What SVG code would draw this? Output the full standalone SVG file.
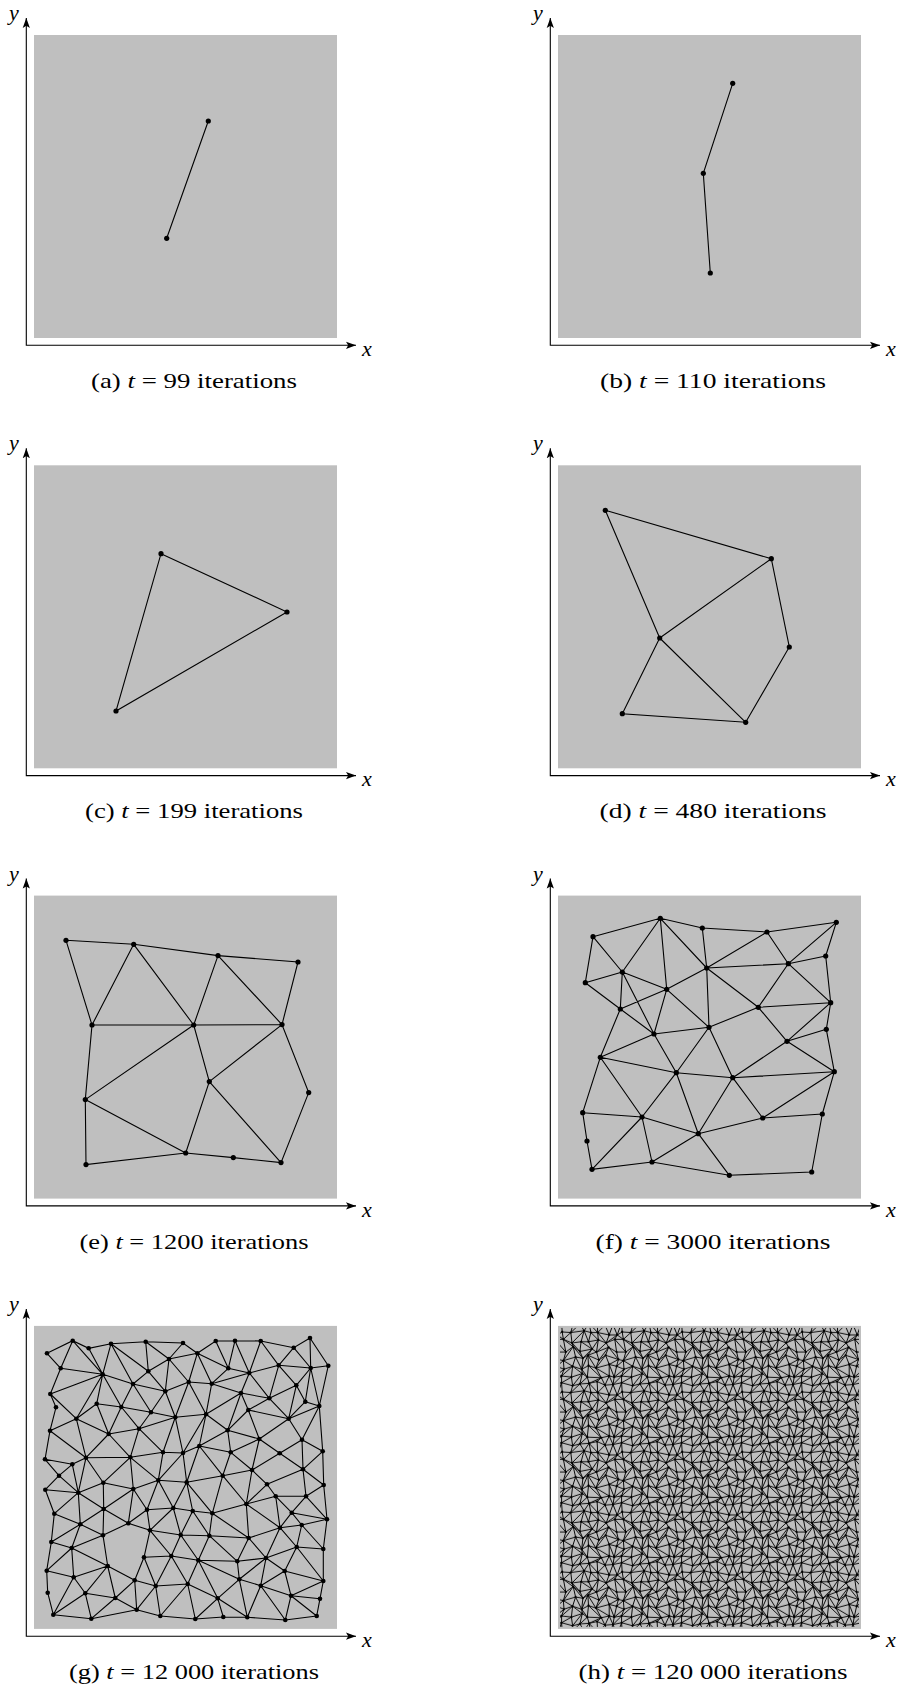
<svg xmlns="http://www.w3.org/2000/svg" width="900" height="1693" viewBox="0 0 900 1693">
<defs>
<style>
.bg{fill:#bfbfbf}
.ax{fill:none;stroke:#000;stroke-width:1.1;marker-start:url(#arr);marker-end:url(#arr)}
.ed{fill:none;stroke:#000;stroke-width:1.1;stroke-linecap:round}
.nd{fill:#000}
.lb{font-family:"Liberation Serif",serif;font-style:italic;font-size:22px;fill:#000}
.cp{font-family:"Liberation Serif",serif;font-size:22px;text-anchor:middle;fill:#000}
.it{font-style:italic}
</style>
<marker id="arr" markerUnits="userSpaceOnUse" markerWidth="11" markerHeight="8" refX="10" refY="4" orient="auto-start-reverse"><path d="M0,0.4 L10,4 L0,7.6 L2.2,4 Z" fill="#000"/></marker>
<pattern id="mesh" patternUnits="userSpaceOnUse" x="36" y="37" width="60" height="60">
<path fill="none" stroke="#000" stroke-width="0.95" d="M2.2 4L10.8 4.6L24.1 2.8L30.9 4.6L37.7 4.6L49.2 7L57.2 7L62.2 4M-2.8 7L2.2 4
M3.4 11.4L12 15L21.1 13.8L28.5 13.8L38.3 12L46.2 15L54.8 11.4L63.4 11.4M-5.2 11.4L3.4 11.4
M5.8 24.1L13.2 18.7L19.9 23.5L32.1 21.1L36.5 24.1L48.6 19.3L56.6 24.1L65.8 24.1M-3.4 24.1L5.8 24.1
M3.4 32.7L15.6 29.1L22.9 30.3L27.9 27.3L38.9 32.1L45.6 27.3L58.4 31.5L63.4 32.7M-1.6 31.5L3.4 32.7
M4 41.3L12.6 38.3L21.7 41.3L28.5 37.7L35.9 40.1L49.2 36.5L56.6 38.3L64 41.3M-3.4 38.3L4 41.3
M1.6 48L11.4 49.2L22.3 45.6L27.3 49.2L41.3 49.8L49.2 48L54.2 49.2L61.6 48M-5.8 49.2L1.6 48
M1.6 54.8L12.6 57.8L19.9 56L29.1 55.4L37.1 53.6L45 57.2L53 56.6L61.6 54.8M-7 56.6L1.6 54.8
M2.2 4L3.4 11.4L5.8 24.1L3.4 32.7L4 41.3L1.6 48L1.6 54.8L2.2 64M1.6 -5.2L2.2 4
M10.8 4.6L12 15L13.2 18.7L15.6 29.1L12.6 38.3L11.4 49.2L12.6 57.8L10.8 64.6M12.6 -2.2L10.8 4.6
M24.1 2.8L21.1 13.8L19.9 23.5L22.9 30.3L21.7 41.3L22.3 45.6L19.9 56L24.1 62.8M19.9 -4L24.1 2.8
M30.9 4.6L28.5 13.8L32.1 21.1L27.9 27.3L28.5 37.7L27.3 49.2L29.1 55.4L30.9 64.6M29.1 -4.6L30.9 4.6
M37.7 4.6L38.3 12L36.5 24.1L38.9 32.1L35.9 40.1L41.3 49.8L37.1 53.6L37.7 64.6M37.1 -6.4L37.7 4.6
M49.2 7L46.2 15L48.6 19.3L45.6 27.3L49.2 36.5L49.2 48L45 57.2L49.2 67M45 -2.8L49.2 7
M57.2 7L54.8 11.4L56.6 24.1L58.4 31.5L56.6 38.3L54.2 49.2L53 56.6L57.2 67M53 -3.4L57.2 7
M10.8 4.6L3.4 11.4M24.1 2.8L12 15M24.1 2.8L28.5 13.8M30.9 4.6L38.3 12M37.7 4.6L46.2 15M57.2 7L46.2 15M57.2 7L63.4 11.4M-2.8 7L3.4 11.4
M3.4 11.4L13.2 18.7M12 15L19.9 23.5M21.1 13.8L32.1 21.1M38.3 12L32.1 21.1M46.2 15L36.5 24.1M54.8 11.4L65.8 24.1M-5.2 11.4L5.8 24.1
M13.2 18.7L3.4 32.7M13.2 18.7L22.9 30.3M32.1 21.1L22.9 30.3M36.5 24.1L27.9 27.3M48.6 19.3L38.9 32.1M48.6 19.3L58.4 31.5
M3.4 32.7L12.6 38.3M15.6 29.1L21.7 41.3M27.9 27.3L21.7 41.3M27.9 27.3L35.9 40.1M45.6 27.3L35.9 40.1M58.4 31.5L49.2 36.5M63.4 32.7L56.6 38.3M3.4 32.7L-3.4 38.3
M12.6 38.3L1.6 48M12.6 38.3L22.3 45.6M21.7 41.3L27.3 49.2M28.5 37.7L41.3 49.8M35.9 40.1L49.2 48M49.2 36.5L54.2 49.2M64 41.3L54.2 49.2M4 41.3L-5.8 49.2
M11.4 49.2L1.6 54.8M22.3 45.6L12.6 57.8M27.3 49.2L19.9 56M41.3 49.8L29.1 55.4M41.3 49.8L45 57.2M49.2 48L53 56.6M61.6 48L53 56.6M1.6 48L-7 56.6
M19.9 56L10.8 64.6M19.9 -4L10.8 4.6M29.1 55.4L24.1 62.8M29.1 -4.6L24.1 2.8M29.1 55.4L37.7 64.6M29.1 -4.6L37.7 4.6M45 57.2L37.7 64.6M45 -2.8L37.7 4.6M53 56.6L49.2 67M53 -3.4L49.2 7M61.6 54.8L57.2 67M1.6 54.8L-2.8 67M61.6 -5.2L57.2 7M1.6 -5.2L-2.8 7"/>
<g fill="#000">
<circle cx="2.2" cy="4" r="1.15"/><circle cx="10.8" cy="4.6" r="1.15"/><circle cx="24.1" cy="2.8" r="1.15"/><circle cx="30.9" cy="4.6" r="1.15"/><circle cx="37.7" cy="4.6" r="1.15"/><circle cx="49.2" cy="7" r="1.15"/><circle cx="57.2" cy="7" r="1.15"/>
<circle cx="3.4" cy="11.4" r="1.15"/><circle cx="12" cy="15" r="1.15"/><circle cx="21.1" cy="13.8" r="1.15"/><circle cx="28.5" cy="13.8" r="1.15"/><circle cx="38.3" cy="12" r="1.15"/><circle cx="46.2" cy="15" r="1.15"/><circle cx="54.8" cy="11.4" r="1.15"/>
<circle cx="5.8" cy="24.1" r="1.15"/><circle cx="13.2" cy="18.7" r="1.15"/><circle cx="19.9" cy="23.5" r="1.15"/><circle cx="32.1" cy="21.1" r="1.15"/><circle cx="36.5" cy="24.1" r="1.15"/><circle cx="48.6" cy="19.3" r="1.15"/><circle cx="56.6" cy="24.1" r="1.15"/>
<circle cx="3.4" cy="32.7" r="1.15"/><circle cx="15.6" cy="29.1" r="1.15"/><circle cx="22.9" cy="30.3" r="1.15"/><circle cx="27.9" cy="27.3" r="1.15"/><circle cx="38.9" cy="32.1" r="1.15"/><circle cx="45.6" cy="27.3" r="1.15"/><circle cx="58.4" cy="31.5" r="1.15"/>
<circle cx="4" cy="41.3" r="1.15"/><circle cx="12.6" cy="38.3" r="1.15"/><circle cx="21.7" cy="41.3" r="1.15"/><circle cx="28.5" cy="37.7" r="1.15"/><circle cx="35.9" cy="40.1" r="1.15"/><circle cx="49.2" cy="36.5" r="1.15"/><circle cx="56.6" cy="38.3" r="1.15"/>
<circle cx="1.6" cy="48" r="1.15"/><circle cx="11.4" cy="49.2" r="1.15"/><circle cx="22.3" cy="45.6" r="1.15"/><circle cx="27.3" cy="49.2" r="1.15"/><circle cx="41.3" cy="49.8" r="1.15"/><circle cx="49.2" cy="48" r="1.15"/><circle cx="54.2" cy="49.2" r="1.15"/>
<circle cx="1.6" cy="54.8" r="1.15"/><circle cx="12.6" cy="57.8" r="1.15"/><circle cx="19.9" cy="56" r="1.15"/><circle cx="29.1" cy="55.4" r="1.15"/><circle cx="37.1" cy="53.6" r="1.15"/><circle cx="45" cy="57.2" r="1.15"/><circle cx="53" cy="56.6" r="1.15"/>
</g>
</pattern>
</defs>
<rect width="900" height="1693" fill="#fff"/>

<!-- (a) -->
<g id="panel-a">
<rect class="bg" x="34" y="35" width="303" height="303"/>
<path class="ax" d="M26.3 18V345.3H356"/>
<text class="lb" x="9" y="20">y</text><text class="lb" x="362" y="356">x</text>
<g id="a-edges" class="ed"><path d="M208.3 121L166.7 238.3"/></g>
<g id="a-nodes" class="nd"><circle id="a-n1" cx="208.3" cy="121" r="2.6"/><circle id="a-n2" cx="166.7" cy="238.3" r="2.6"/></g>
<text class="cp" x="194" y="388" textLength="206" lengthAdjust="spacingAndGlyphs">(a) <tspan class="it">t</tspan> = 99 iterations</text>
</g>

<!-- (b) -->
<g id="panel-b" transform="translate(524,0)">
<rect class="bg" x="34" y="35" width="303" height="303"/>
<path class="ax" d="M26.3 18V345.3H356"/>
<text class="lb" x="9" y="20">y</text><text class="lb" x="362" y="356">x</text>
<g id="b-edges" class="ed"><path d="M208.7 83.3L179.3 173.3L186.3 273"/></g>
<g id="b-nodes" class="nd"><circle id="b-n1" cx="208.7" cy="83.3" r="2.6"/><circle id="b-n2" cx="179.3" cy="173.3" r="2.6"/><circle id="b-n3" cx="186.3" cy="273" r="2.6"/></g>
<text class="cp" x="189" y="388" textLength="226" lengthAdjust="spacingAndGlyphs">(b) <tspan class="it">t</tspan> = 110 iterations</text>
</g>

<!-- (c) -->
<g id="panel-c" transform="translate(0,430.3)">
<rect class="bg" x="34" y="35" width="303" height="303"/>
<path class="ax" d="M26.3 18V345.3H356"/>
<text class="lb" x="9" y="20">y</text><text class="lb" x="362" y="356">x</text>
<g id="c-edges" class="ed"><path d="M161 123.4L287 181.7L116 280.7Z"/></g>
<g id="c-nodes" class="nd"><circle id="c-n1" cx="161" cy="123.4" r="2.6"/><circle id="c-n2" cx="287" cy="181.7" r="2.6"/><circle id="c-n3" cx="116" cy="280.7" r="2.6"/></g>
<text class="cp" x="194" y="388" textLength="218" lengthAdjust="spacingAndGlyphs">(c) <tspan class="it">t</tspan> = 199 iterations</text>
</g>

<!-- (d) -->
<g id="panel-d" transform="translate(524,430.3)">
<rect class="bg" x="34" y="35" width="303" height="303"/>
<path class="ax" d="M26.3 18V345.3H356"/>
<text class="lb" x="9" y="20">y</text><text class="lb" x="362" y="356">x</text>
<g id="d-edges" class="ed"><path d="M81.3 80L247.3 128.4L265.3 216.7L221.7 292L98.3 283.4L135.7 207.7L81.3 80M135.7 207.7L247.3 128.4M135.7 207.7L221.7 292"/></g>
<g id="d-nodes" class="nd"><circle id="d-n1" cx="81.3" cy="80" r="2.6"/><circle id="d-n2" cx="247.3" cy="128.4" r="2.6"/><circle id="d-n3" cx="135.7" cy="207.7" r="2.6"/><circle id="d-n4" cx="265.3" cy="216.7" r="2.6"/><circle id="d-n5" cx="98.3" cy="283.4" r="2.6"/><circle id="d-n6" cx="221.7" cy="292" r="2.6"/></g>
<text class="cp" x="189" y="388" textLength="227" lengthAdjust="spacingAndGlyphs">(d) <tspan class="it">t</tspan> = 480 iterations</text>
</g>

<!-- (e) -->
<g id="panel-e" transform="translate(0,860.6)">
<rect class="bg" x="34" y="35" width="303" height="303"/>
<path class="ax" d="M26.3 18V345.3H356"/>
<text class="lb" x="9" y="20">y</text><text class="lb" x="362" y="356">x</text>
<g id="e-edges" class="ed"><path d="M66 79.7L133.7 83.7L218 95L298 101.4L282 164L308.7 232L281 302L233.3 297L185.7 292.4L86 304L85.3 239L92 164.4L66 79.7M133.7 83.7L92 164.4M133.7 83.7L193.7 164.4M218 95L193.7 164.4M218 95L282 164M92 164.4L193.7 164.4L282 164M193.7 164.4L85.3 239M193.7 164.4L209.3 221M282 164L209.3 221M209.3 221L185.7 292.4M209.3 221L281 302M85.3 239L185.7 292.4"/></g>
<g id="e-nodes" class="nd">
<circle id="e-n1" cx="66" cy="79.7" r="2.6"/><circle id="e-n2" cx="133.7" cy="83.7" r="2.6"/><circle id="e-n3" cx="218" cy="95" r="2.6"/><circle id="e-n4" cx="298" cy="101.4" r="2.6"/><circle id="e-n5" cx="92" cy="164.4" r="2.6"/><circle id="e-n6" cx="193.7" cy="164.4" r="2.6"/><circle id="e-n7" cx="282" cy="164" r="2.6"/><circle id="e-n8" cx="209.3" cy="221" r="2.6"/><circle id="e-n9" cx="308.7" cy="232" r="2.6"/><circle id="e-n10" cx="85.3" cy="239" r="2.6"/><circle id="e-n11" cx="185.7" cy="292.4" r="2.6"/><circle id="e-n12" cx="233.3" cy="297" r="2.6"/><circle id="e-n13" cx="281" cy="302" r="2.6"/><circle id="e-n14" cx="86" cy="304" r="2.6"/>
</g>
<text class="cp" x="194" y="388" textLength="229" lengthAdjust="spacingAndGlyphs">(e) <tspan class="it">t</tspan> = 1200 iterations</text>
</g>

<!-- (f) -->
<g id="panel-f" transform="translate(524,860.6)">
<rect class="bg" x="34" y="35" width="303" height="303"/>
<path class="ax" d="M26.3 18V345.3H356"/>
<text class="lb" x="9" y="20">y</text><text class="lb" x="362" y="356">x</text>
<g id="f-edges" class="ed"><path d="M69 76.1L136.3 57.7L178.3 67.4L243 71.4L312.3 61.7M69 76.1L61.3 122.1M69 76.1L98.3 111.4M136.3 57.7L98.3 111.4M136.3 57.7L142.7 128.7M136.3 57.7L182.7 107.4M178.3 67.4L182.7 107.4M243 71.4L182.7 107.4M243 71.4L264.3 103.1M312.3 61.7L264.3 103.1M312.3 61.7L301.7 95.4M182.7 107.4L264.3 103.1M264.3 103.1L301.7 95.4M264.3 103.1L234.3 146.7M264.3 103.1L306.7 142.1M301.7 95.4L306.7 142.1M98.3 111.4L61.3 122.1M98.3 111.4L142.7 128.7M98.3 111.4L96.3 148.4M98.3 111.4L130 173.4M61.3 122.1L96.3 148.4M142.7 128.7L182.7 107.4M142.7 128.7L96.3 148.4M142.7 128.7L130 173.4M142.7 128.7L185 166.7M182.7 107.4L185 166.7M182.7 107.4L234.3 146.7M96.3 148.4L130 173.4M96.3 148.4L76.3 196.7M234.3 146.7L306.7 142.1M234.3 146.7L185 166.7M234.3 146.7L263 180.7M306.7 142.1L263 180.7M306.7 142.1L302.3 168.7M185 166.7L130 173.4M185 166.7L152.3 212.1M185 166.7L208.7 217.1M130 173.4L76.3 196.7M130 173.4L152.3 212.1M302.3 168.7L263 180.7M302.3 168.7L310.3 211.1M263 180.7L208.7 217.1M263 180.7L310.3 211.1M76.3 196.7L152.3 212.1M76.3 196.7L58.7 252.1M76.3 196.7L118 256.4M152.3 212.1L208.7 217.1M152.3 212.1L118 256.4M152.3 212.1L174.3 273.1M208.7 217.1L310.3 211.1M208.7 217.1L174.3 273.1M208.7 217.1L238.7 257.4M310.3 211.1L238.7 257.4M310.3 211.1L298.3 253.4M58.7 252.1L118 256.4M58.7 252.1L63 280.4M118 256.4L68 308.7M118 256.4L128 301.4M118 256.4L174.3 273.1M238.7 257.4L298.3 253.4M238.7 257.4L174.3 273.1M298.3 253.4L287.7 311.4M174.3 273.1L128 301.4M174.3 273.1L205.3 314.7M63 280.4L68 308.7L128 301.4L205.3 314.7L287.7 311.4"/></g>
<g id="f-nodes" class="nd">
<circle id="f-n1" cx="69" cy="76.1" r="2.6"/><circle id="f-n2" cx="136.3" cy="57.7" r="2.6"/><circle id="f-n3" cx="178.3" cy="67.4" r="2.6"/><circle id="f-n4" cx="243" cy="71.4" r="2.6"/><circle id="f-n5" cx="312.3" cy="61.7" r="2.6"/><circle id="f-n6" cx="98.3" cy="111.4" r="2.6"/><circle id="f-n7" cx="61.3" cy="122.1" r="2.6"/><circle id="f-n8" cx="182.7" cy="107.4" r="2.6"/><circle id="f-n9" cx="264.3" cy="103.1" r="2.6"/><circle id="f-n10" cx="301.7" cy="95.4" r="2.6"/><circle id="f-n11" cx="142.7" cy="128.7" r="2.6"/><circle id="f-n12" cx="96.3" cy="148.4" r="2.6"/><circle id="f-n13" cx="234.3" cy="146.7" r="2.6"/><circle id="f-n14" cx="306.7" cy="142.1" r="2.6"/><circle id="f-n15" cx="185" cy="166.7" r="2.6"/><circle id="f-n16" cx="130" cy="173.4" r="2.6"/><circle id="f-n17" cx="302.3" cy="168.7" r="2.6"/><circle id="f-n18" cx="263" cy="180.7" r="2.6"/><circle id="f-n19" cx="76.3" cy="196.7" r="2.6"/><circle id="f-n20" cx="152.3" cy="212.1" r="2.6"/><circle id="f-n21" cx="208.7" cy="217.1" r="2.6"/><circle id="f-n22" cx="310.3" cy="211.1" r="2.6"/><circle id="f-n23" cx="58.7" cy="252.1" r="2.6"/><circle id="f-n24" cx="118" cy="256.4" r="2.6"/><circle id="f-n25" cx="238.7" cy="257.4" r="2.6"/><circle id="f-n26" cx="298.3" cy="253.4" r="2.6"/><circle id="f-n27" cx="174.3" cy="273.1" r="2.6"/><circle id="f-n28" cx="63" cy="280.4" r="2.6"/><circle id="f-n29" cx="68" cy="308.7" r="2.6"/><circle id="f-n30" cx="128" cy="301.4" r="2.6"/><circle id="f-n31" cx="205.3" cy="314.7" r="2.6"/><circle id="f-n32" cx="287.7" cy="311.4" r="2.6"/>
</g>
<text class="cp" x="189" y="388" textLength="235" lengthAdjust="spacingAndGlyphs">(f) <tspan class="it">t</tspan> = 3000 iterations</text>
</g>

<!-- (g) -->
<g id="panel-g" transform="translate(0,1290.9)">
<rect class="bg" x="34" y="35" width="303" height="303"/>
<path class="ax" d="M26.3 18V345.3H356"/>
<text class="lb" x="9" y="20">y</text><text class="lb" x="362" y="356">x</text>
<g id="g-edges" class="ed"><path d="M47 62.4L72.7 49.8L88.7 57.4L111 52.8L145.7 50.8L183 52.1L197.3 62.4L215.7 50.1L235 49.8L260.7 50.1L293.7 56.8L310 47.1
M47 62.4L60.7 77.4M72.7 49.8L60.7 77.4M72.7 49.8L102.7 83.4M88.7 57.4L102.7 83.4M111 52.8L102.7 83.4M111 52.8L133 93.1M111 52.8L148.3 80.4M145.7 50.8L148.3 80.4M145.7 50.8L169 68.1M183 52.1L169 68.1M148.3 80.4L169 68.1M169 68.1L188.7 91.1M148.3 80.4L133 93.1M148.3 80.4L165.3 100.4M169 68.1L165.3 100.4M60.7 77.4L102.7 83.4M102.7 83.4L50.3 103.1M102.7 83.4L96.7 112.8M102.7 83.4L133 93.1M102.7 83.4L76.3 127.8M102.7 83.4L121.3 116.1M133 93.1L165.3 100.4M133 93.1L121.3 116.1M133 93.1L151 121.4M165.3 100.4L188.7 91.1M165.3 100.4L151 121.4M165.3 100.4L175.3 126.4M60.7 77.4L50.3 103.1M50.3 103.1L56 116.4L50 139.8M96.7 112.8L121.3 116.1M96.7 112.8L108.7 143.1M96.7 112.8L76.3 127.8M121.3 116.1L151 121.4M121.3 116.1L139 137.8M121.3 116.1L108.7 143.1M151 121.4L175.3 126.4M151 121.4L139 137.8M175.3 126.4L139 137.8M175.3 126.4L163 161.4M175.3 126.4L183 162.1M50.3 103.1L76.3 127.8M76.3 127.8L50 139.8M76.3 127.8L86 166.8M76.3 127.8L108.7 143.1M50 139.8L45 168.4M50 139.8L86 166.8M139 137.8L108.7 143.1M139 137.8L130.3 166.4M139 137.8L163 161.4M108.7 143.1L86 166.8M108.7 143.1L130.3 166.4M86 166.8L72.3 173.4M45 168.4L72.3 173.4M45 168.4L59 184.8M72.3 173.4L59 184.8M130.3 166.4L163 161.4M163 161.4L183 162.1M86 166.8L78.3 201.8M72.3 173.4L78.3 201.8M86 166.8L103.3 191.8M59 184.8L78.3 201.8M59 184.8L45.3 198.8M45.3 198.8L78.3 201.8M78.3 201.8L103.3 191.8M103.3 191.8L130.3 166.4M103.3 191.8L133.3 198.1M130.3 166.4L133.3 198.1M130.3 166.4L158.3 189.4M133.3 198.1L158.3 189.4M163 161.4L158.3 189.4M183 162.1L186.7 191.4M158.3 189.4L186.7 191.4M183 162.1L158.3 189.4M86 166.8L130.3 166.4
M197.3 62.4L228.3 77.4M197.3 62.4L211.7 92.8M197.3 62.4L188.7 91.1M197.3 62.4L169 68.1M215.7 50.1L228.3 77.4M235 49.8L228.3 77.4M235 49.8L249.3 82.1M260.7 50.1L249.3 82.1M260.7 50.1L278.7 74.4M293.7 56.8L278.7 74.4M293.7 56.8L310.7 77.1M310 47.1L310.7 77.1M310 47.1L328.3 74.8M310.7 77.1L328.3 74.8M278.7 74.4L310.7 77.1M228.3 77.4L249.3 82.1M228.3 77.4L211.7 92.8M249.3 82.1L278.7 74.4M278.7 74.4L269.3 107.4M249.3 82.1L211.7 92.8M249.3 82.1L241 102.1M249.3 82.1L269.3 107.4M278.7 74.4L296.3 94.4M296.3 94.4L310.7 77.1M296.3 94.4L269.3 107.4M296.3 94.4L305.3 110.8M296.3 94.4L288.7 127.8M305.3 110.8L319.3 115.1M305.3 110.8L310.7 77.1M319.3 115.1L310.7 77.1M319.3 115.1L328.3 74.8M305.3 110.8L288.7 127.8M319.3 115.1L288.7 127.8M319.3 115.1L302 148.8M288.7 127.8L302 148.8M288.7 127.8L259.3 148.1M288.7 127.8L248.3 119.1M211.7 92.8L241 102.1M211.7 92.8L206 123.4M211.7 92.8L188.7 91.1M188.7 91.1L206 123.4M188.7 91.1L175.3 126.4M175.3 126.4L206 123.4M206 123.4L183 162.1M206 123.4L199.3 155.1M199.3 155.1L183 162.1M241 102.1L269.3 107.4M241 102.1L248.3 119.1M241 102.1L206 123.4M241 102.1L227.7 139.4M269.3 107.4L248.3 119.1M269.3 107.4L288.7 127.8M206 123.4L227.7 139.4M227.7 139.4L199.3 155.1M227.7 139.4L230.7 161.4M227.7 139.4L259.3 148.1M227.7 139.4L248.3 119.1M248.3 119.1L259.3 148.1M259.3 148.1L230.7 161.4M259.3 148.1L279.7 162.4M259.3 148.1L252 179.1M302 148.8L279.7 162.4M302 148.8L322.7 160.4M302 148.8L303 178.4M319.3 115.1L322.7 160.4M199.3 155.1L230.7 161.4M199.3 155.1L222.7 184.8M230.7 161.4L252 179.1M230.7 161.4L222.7 184.8M279.7 162.4L252 179.1M279.7 162.4L303 178.4M322.7 160.4L303 178.4M252 179.1L222.7 184.8M199.3 155.1L186.7 191.4M222.7 184.8L186.7 191.4M322.7 160.4L323.7 194.1
M45.3 198.8L54.3 222.8M78.3 201.8L54.3 222.8M78.3 201.8L80.3 233.4M103.3 191.8L103.7 218.1M78.3 201.8L103.7 218.1M133.3 198.1L128.3 232.4M133.3 198.1L147 218.8M133.3 198.1L103.7 218.1M158.3 189.4L147 218.8M158.3 189.4L173.3 217.1M54.3 222.8L80.3 233.4M54.3 222.8L51.3 251.1M103.7 218.1L80.3 233.4M103.7 218.1L103 244.4M103.7 218.1L128.3 232.4M80.3 233.4L103 244.4M80.3 233.4L51.3 251.1M80.3 233.4L71.7 257.1M128.3 232.4L103 244.4M128.3 232.4L150 239.4M147 218.8L128.3 232.4M147 218.8L150 239.4M147 218.8L173.3 217.1M173.3 217.1L150 239.4M173.3 217.1L180.7 244.1M150 239.4L180.7 244.1M150 239.4L144 266.4M150 239.4L171.3 265.1M180.7 244.1L171.3 265.1M103 244.4L71.7 257.1M51.3 251.1L71.7 257.1M51.3 251.1L46.7 279.8M71.7 257.1L46.7 279.8M71.7 257.1L107.7 275.1M71.7 257.1L73.7 286.4M144 266.4L171.3 265.1M144 266.4L134.7 289.4M144 266.4L155.7 295.1M107.7 275.1L134.7 289.4M171.3 265.1L155.7 295.1M171.3 265.1L187.7 293.1M46.7 279.8L73.7 286.4M46.7 279.8L47.7 301.8M47.7 301.8L53.3 323.8M107.7 275.1L73.7 286.4M107.7 275.1L115.3 307.1M107.7 275.1L85.3 302.4M73.7 286.4L85.3 302.4M73.7 286.4L53.3 323.8M134.7 289.4L155.7 295.1M134.7 289.4L115.3 307.1M134.7 289.4L136.7 318.8M155.7 295.1L136.7 318.8M155.7 295.1L160.3 325.1M155.7 295.1L187.7 293.1M85.3 302.4L115.3 307.1M85.3 302.4L53.3 323.8M85.3 302.4L91.3 327.8M115.3 307.1L91.3 327.8M115.3 307.1L136.7 318.8M53.3 323.8L91.3 327.8M91.3 327.8L136.7 318.8M136.7 318.8L160.3 325.1M160.3 325.1L195.3 328.1M187.7 293.1L160.3 325.1M103 244.4L107.7 275.1
M252 179.1L267 193.4M252 179.1L246.3 213.1M303 178.4L267 193.4M303 178.4L323.7 194.1M303 178.4L306 205.4M323.7 194.1L306 205.4M323.7 194.1L327 228.4M267 193.4L275.7 205.4M267 193.4L246.3 213.1M275.7 205.4L306 205.4M275.7 205.4L291.7 221.8M275.7 205.4L280 236.8M275.7 205.4L246.3 213.1M306 205.4L291.7 221.8M306 205.4L327 228.4M291.7 221.8L327 228.4M291.7 221.8L301.7 234.1M301.7 234.1L327 228.4M291.7 221.8L280 236.8M246.3 213.1L212.3 222.4M246.3 213.1L280 236.8M246.3 213.1L248.7 247.1M212.3 222.4L192.7 220.1M212.3 222.4L209.3 244.8M212.3 222.4L248.7 247.1M192.7 220.1L186.7 191.4M186.7 191.4L212.3 222.4M222.7 184.8L246.3 213.1M222.7 184.8L212.3 222.4M301.7 234.1L280 236.8M301.7 234.1L296.7 256.1M327 228.4L323.3 258.1M301.7 234.1L323.3 258.1M280 236.8L296.7 256.1M280 236.8L248.7 247.1M280 236.8L266 267.1M180.7 244.1L209.3 244.8M180.7 244.1L198.3 269.4M192.7 220.1L180.7 244.1M192.7 220.1L209.3 244.8M209.3 244.8L248.7 247.1M209.3 244.8L198.3 269.4M209.3 244.8L237.3 270.4M248.7 247.1L237.3 270.4M248.7 247.1L266 267.1M296.7 256.1L323.3 258.1M296.7 256.1L266 267.1M296.7 256.1L284.7 280.1M323.3 258.1L323.3 290.1M296.7 256.1L323.3 290.1M198.3 269.4L237.3 270.4M198.3 269.4L187.7 293.1M198.3 269.4L239.3 288.4M237.3 270.4L239.3 288.4M237.3 270.4L266 267.1M266 267.1L284.7 280.1M266 267.1L239.3 288.4M266 267.1L260.7 294.8M284.7 280.1L260.7 294.8M284.7 280.1L323.3 290.1M284.7 280.1L291 304.8M187.7 293.1L217.7 307.4M187.7 293.1L195.3 328.1M239.3 288.4L260.7 294.8M239.3 288.4L217.7 307.4M239.3 288.4L247.3 326.4M260.7 294.8L291 304.8M260.7 294.8L247.3 326.4M260.7 294.8L285.3 329.1M323.3 290.1L291 304.8M323.3 290.1L320 307.8M291 304.8L285.3 329.1M291 304.8L320 307.8M291 304.8L316.7 325.1M217.7 307.4L195.3 328.1M217.7 307.4L223.3 326.1M217.7 307.4L247.3 326.4M195.3 328.1L223.3 326.1M223.3 326.1L247.3 326.4M247.3 326.4L285.3 329.1M285.3 329.1L316.7 325.1M320 307.8L316.7 325.1M198.3 269.4L171.3 265.1M173.3 217.1L192.7 220.1M173.3 217.1L186.7 191.4M198.3 269.4L217.7 307.4"/></g>
<g id="g-nodes" class="nd">
<circle id="g-n1" cx="47" cy="62.4" r="2.3"/><circle id="g-n2" cx="72.7" cy="49.8" r="2.3"/><circle id="g-n3" cx="88.7" cy="57.4" r="2.3"/><circle id="g-n4" cx="111" cy="52.8" r="2.3"/><circle id="g-n5" cx="145.7" cy="50.8" r="2.3"/><circle id="g-n6" cx="183" cy="52.1" r="2.3"/><circle id="g-n7" cx="197.3" cy="62.4" r="2.3"/><circle id="g-n8" cx="215.7" cy="50.1" r="2.3"/><circle id="g-n9" cx="235" cy="49.8" r="2.3"/><circle id="g-n10" cx="260.7" cy="50.1" r="2.3"/><circle id="g-n11" cx="293.7" cy="56.8" r="2.3"/><circle id="g-n12" cx="310" cy="47.1" r="2.3"/>
<circle id="g-n13" cx="60.7" cy="77.4" r="2.3"/><circle id="g-n14" cx="102.7" cy="83.4" r="2.3"/><circle id="g-n15" cx="148.3" cy="80.4" r="2.3"/><circle id="g-n16" cx="169" cy="68.1" r="2.3"/><circle id="g-n17" cx="228.3" cy="77.4" r="2.3"/><circle id="g-n18" cx="249.3" cy="82.1" r="2.3"/><circle id="g-n19" cx="278.7" cy="74.4" r="2.3"/><circle id="g-n20" cx="310.7" cy="77.1" r="2.3"/><circle id="g-n21" cx="328.3" cy="74.8" r="2.3"/>
<circle id="g-n22" cx="50.3" cy="103.1" r="2.3"/><circle id="g-n23" cx="133" cy="93.1" r="2.3"/><circle id="g-n24" cx="188.7" cy="91.1" r="2.3"/><circle id="g-n25" cx="165.3" cy="100.4" r="2.3"/><circle id="g-n26" cx="211.7" cy="92.8" r="2.3"/><circle id="g-n27" cx="241" cy="102.1" r="2.3"/><circle id="g-n28" cx="296.3" cy="94.4" r="2.3"/>
<circle id="g-n29" cx="56" cy="116.4" r="2.3"/><circle id="g-n30" cx="96.7" cy="112.8" r="2.3"/><circle id="g-n31" cx="121.3" cy="116.1" r="2.3"/><circle id="g-n32" cx="151" cy="121.4" r="2.3"/><circle id="g-n33" cx="76.3" cy="127.8" r="2.3"/><circle id="g-n34" cx="175.3" cy="126.4" r="2.3"/><circle id="g-n35" cx="269.3" cy="107.4" r="2.3"/><circle id="g-n36" cx="305.3" cy="110.8" r="2.3"/><circle id="g-n37" cx="319.3" cy="115.1" r="2.3"/><circle id="g-n38" cx="248.3" cy="119.1" r="2.3"/><circle id="g-n39" cx="206" cy="123.4" r="2.3"/><circle id="g-n40" cx="288.7" cy="127.8" r="2.3"/>
<circle id="g-n41" cx="50" cy="139.8" r="2.3"/><circle id="g-n42" cx="139" cy="137.8" r="2.3"/><circle id="g-n43" cx="108.7" cy="143.1" r="2.3"/><circle id="g-n44" cx="227.7" cy="139.4" r="2.3"/><circle id="g-n45" cx="259.3" cy="148.1" r="2.3"/><circle id="g-n46" cx="302" cy="148.8" r="2.3"/>
<circle id="g-n47" cx="199.3" cy="155.1" r="2.3"/><circle id="g-n48" cx="230.7" cy="161.4" r="2.3"/><circle id="g-n49" cx="279.7" cy="162.4" r="2.3"/><circle id="g-n50" cx="322.7" cy="160.4" r="2.3"/><circle id="g-n51" cx="86" cy="166.8" r="2.3"/><circle id="g-n52" cx="45" cy="168.4" r="2.3"/><circle id="g-n53" cx="72.3" cy="173.4" r="2.3"/><circle id="g-n54" cx="130.3" cy="166.4" r="2.3"/><circle id="g-n55" cx="163" cy="161.4" r="2.3"/><circle id="g-n56" cx="183" cy="162.1" r="2.3"/>
<circle id="g-n57" cx="252" cy="179.1" r="2.3"/><circle id="g-n58" cx="303" cy="178.4" r="2.3"/><circle id="g-n59" cx="222.7" cy="184.8" r="2.3"/><circle id="g-n60" cx="59" cy="184.8" r="2.3"/><circle id="g-n61" cx="45.3" cy="198.8" r="2.3"/><circle id="g-n62" cx="78.3" cy="201.8" r="2.3"/><circle id="g-n63" cx="103.3" cy="191.8" r="2.3"/><circle id="g-n64" cx="133.3" cy="198.1" r="2.3"/><circle id="g-n65" cx="158.3" cy="189.4" r="2.3"/><circle id="g-n66" cx="186.7" cy="191.4" r="2.3"/><circle id="g-n67" cx="267" cy="193.4" r="2.3"/><circle id="g-n68" cx="323.7" cy="194.1" r="2.3"/>
<circle id="g-n69" cx="275.7" cy="205.4" r="2.3"/><circle id="g-n70" cx="306" cy="205.4" r="2.3"/><circle id="g-n71" cx="246.3" cy="213.1" r="2.3"/><circle id="g-n72" cx="212.3" cy="222.4" r="2.3"/><circle id="g-n73" cx="192.7" cy="220.1" r="2.3"/><circle id="g-n74" cx="291.7" cy="221.8" r="2.3"/><circle id="g-n75" cx="54.3" cy="222.8" r="2.3"/><circle id="g-n76" cx="103.7" cy="218.1" r="2.3"/><circle id="g-n77" cx="147" cy="218.8" r="2.3"/><circle id="g-n78" cx="173.3" cy="217.1" r="2.3"/>
<circle id="g-n79" cx="301.7" cy="234.1" r="2.3"/><circle id="g-n80" cx="327" cy="228.4" r="2.3"/><circle id="g-n81" cx="280" cy="236.8" r="2.3"/><circle id="g-n82" cx="80.3" cy="233.4" r="2.3"/><circle id="g-n83" cx="128.3" cy="232.4" r="2.3"/><circle id="g-n84" cx="150" cy="239.4" r="2.3"/><circle id="g-n85" cx="180.7" cy="244.1" r="2.3"/><circle id="g-n86" cx="51.3" cy="251.1" r="2.3"/><circle id="g-n87" cx="103" cy="244.4" r="2.3"/><circle id="g-n88" cx="71.7" cy="257.1" r="2.3"/><circle id="g-n89" cx="209.3" cy="244.8" r="2.3"/><circle id="g-n90" cx="248.7" cy="247.1" r="2.3"/><circle id="g-n91" cx="296.7" cy="256.1" r="2.3"/><circle id="g-n92" cx="323.3" cy="258.1" r="2.3"/>
<circle id="g-n93" cx="144" cy="266.4" r="2.3"/><circle id="g-n94" cx="171.3" cy="265.1" r="2.3"/><circle id="g-n95" cx="46.7" cy="279.8" r="2.3"/><circle id="g-n96" cx="107.7" cy="275.1" r="2.3"/><circle id="g-n97" cx="73.7" cy="286.4" r="2.3"/><circle id="g-n98" cx="134.7" cy="289.4" r="2.3"/><circle id="g-n99" cx="155.7" cy="295.1" r="2.3"/><circle id="g-n100" cx="187.7" cy="293.1" r="2.3"/><circle id="g-n101" cx="198.3" cy="269.4" r="2.3"/><circle id="g-n102" cx="237.3" cy="270.4" r="2.3"/><circle id="g-n103" cx="266" cy="267.1" r="2.3"/><circle id="g-n104" cx="284.7" cy="280.1" r="2.3"/><circle id="g-n105" cx="239.3" cy="288.4" r="2.3"/><circle id="g-n106" cx="260.7" cy="294.8" r="2.3"/><circle id="g-n107" cx="323.3" cy="290.1" r="2.3"/>
<circle id="g-n108" cx="47.7" cy="301.8" r="2.3"/><circle id="g-n109" cx="85.3" cy="302.4" r="2.3"/><circle id="g-n110" cx="115.3" cy="307.1" r="2.3"/><circle id="g-n111" cx="53.3" cy="323.8" r="2.3"/><circle id="g-n112" cx="91.3" cy="327.8" r="2.3"/><circle id="g-n113" cx="136.7" cy="318.8" r="2.3"/><circle id="g-n114" cx="160.3" cy="325.1" r="2.3"/><circle id="g-n115" cx="291" cy="304.8" r="2.3"/><circle id="g-n116" cx="217.7" cy="307.4" r="2.3"/><circle id="g-n117" cx="320" cy="307.8" r="2.3"/><circle id="g-n118" cx="195.3" cy="328.1" r="2.3"/><circle id="g-n119" cx="223.3" cy="326.1" r="2.3"/><circle id="g-n120" cx="247.3" cy="326.4" r="2.3"/><circle id="g-n121" cx="285.3" cy="329.1" r="2.3"/><circle id="g-n122" cx="316.7" cy="325.1" r="2.3"/>
</g>
<text class="cp" x="194" y="388" textLength="250" lengthAdjust="spacingAndGlyphs">(g) <tspan class="it">t</tspan> = 12 000 iterations</text>
</g>

<!-- (h) -->
<g id="panel-h" transform="translate(524,1290.9)">
<rect class="bg" x="34" y="35" width="303" height="303"/>
<path class="ax" d="M26.3 18V345.3H356"/>
<text class="lb" x="9" y="20">y</text><text class="lb" x="362" y="356">x</text>
<rect id="h-mesh" x="36" y="37" width="299" height="299" fill="url(#mesh)"/>
<text class="cp" x="189" y="388" textLength="269" lengthAdjust="spacingAndGlyphs">(h) <tspan class="it">t</tspan> = 120 000 iterations</text>
</g>
</svg>
